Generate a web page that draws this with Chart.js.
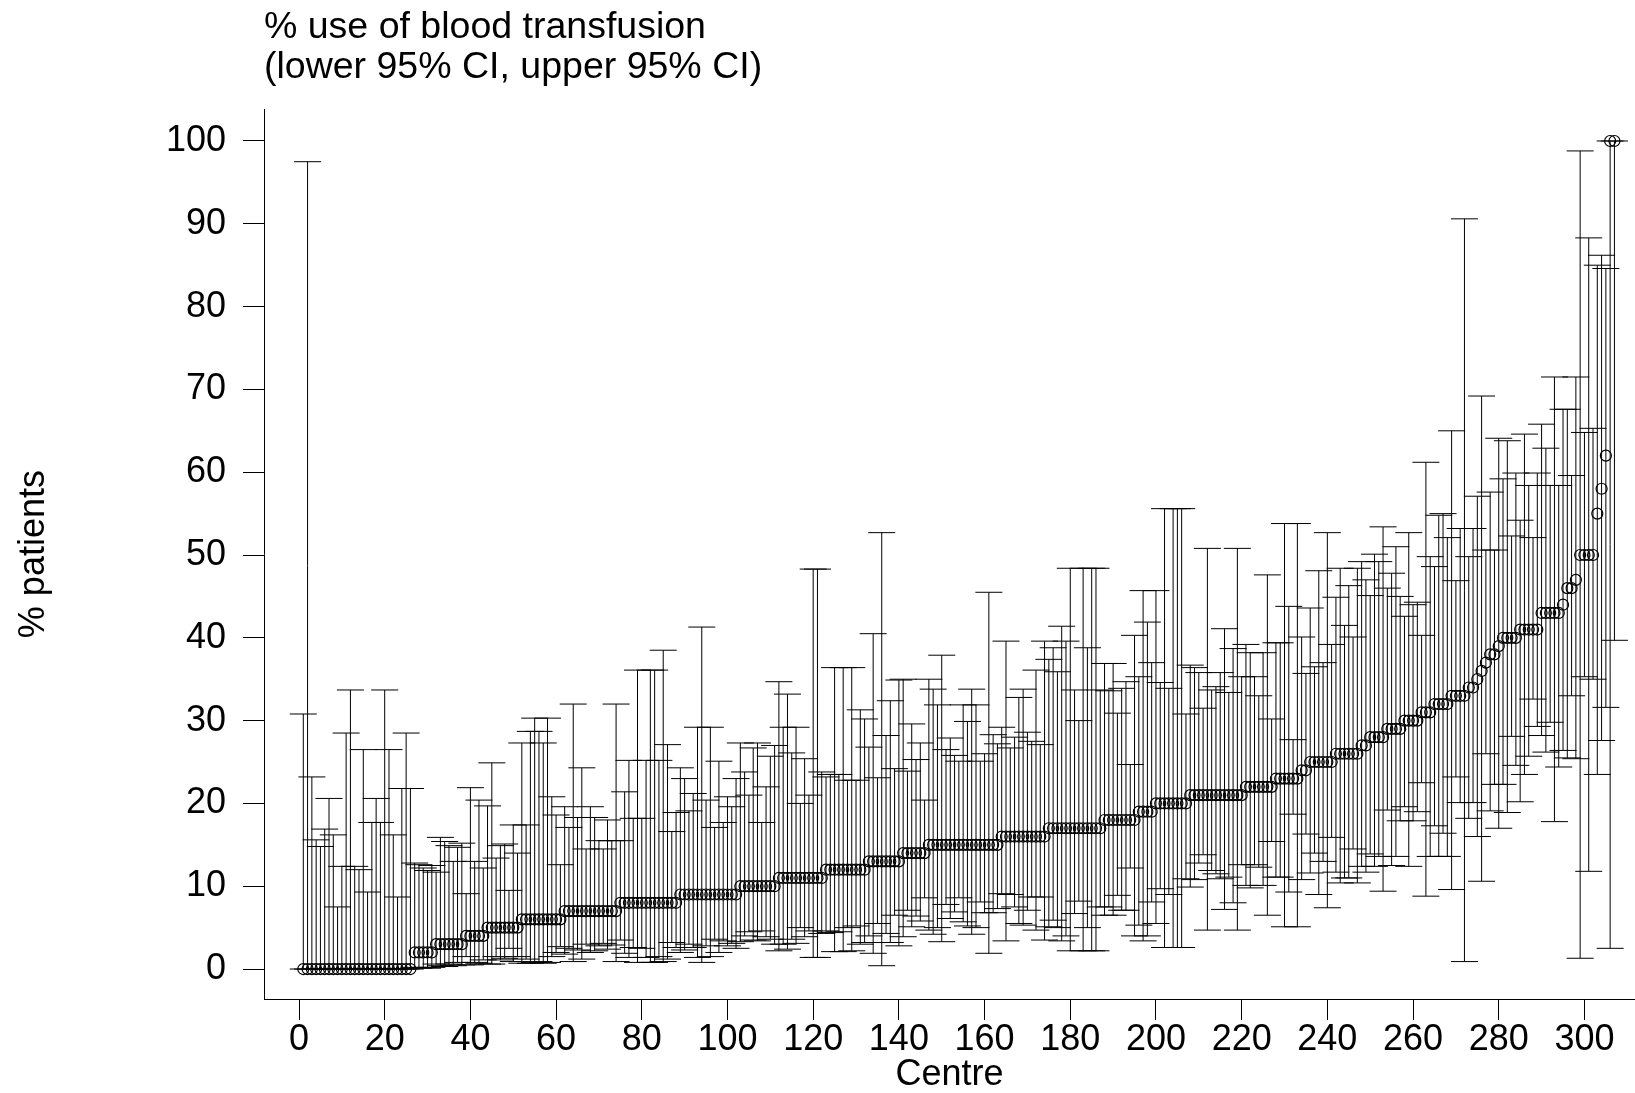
<!DOCTYPE html>
<html>
<head>
<meta charset="utf-8">
<title>% use of blood transfusion</title>
<script src="https://cdn.jsdelivr.net/npm/chart.js@4.4.0/dist/chart.umd.min.js"></script>
<style>
    html, body { margin: 0; padding: 0; background: #fff; overflow: hidden; }
    #chart { display: block; }
</style>
</head>
<body>
<canvas id="chart" width="1635" height="1093"></canvas>
<script>
/* ========================================
   % use of blood transfusion per centre,
   with lower / upper 95% CI (centres sorted by estimate)
   ======================================== */

const estimate = [
    0, 0, 0, 0, 0, 0, 0, 0, 0, 0,
    0, 0, 0, 0, 0, 0, 0, 0, 0, 0,
    0, 0, 0, 0, 0, 0, 2, 2, 2, 2,
    2, 3, 3, 3, 3, 3, 3, 3, 4, 4,
    4, 4, 4, 5, 5, 5, 5, 5, 5, 5,
    5, 6, 6, 6, 6, 6, 6, 6, 6, 6,
    6, 7, 7, 7, 7, 7, 7, 7, 7, 7,
    7, 7, 7, 7, 8, 8, 8, 8, 8, 8,
    8, 8, 8, 8, 8, 8, 8, 8, 9, 9,
    9, 9, 9, 9, 9, 9, 9, 9, 9, 9,
    9, 9, 10, 10, 10, 10, 10, 10, 10, 10,
    10, 11, 11, 11, 11, 11, 11, 11, 11, 11,
    11, 11, 12, 12, 12, 12, 12, 12, 12, 12,
    12, 12, 13, 13, 13, 13, 13, 13, 13, 13,
    14, 14, 14, 14, 14, 14, 15, 15, 15, 15,
    15, 15, 15, 15, 15, 15, 15, 15, 15, 15,
    15, 15, 15, 16, 16, 16, 16, 16, 16, 16,
    16, 16, 16, 16, 17, 17, 17, 17, 17, 17,
    17, 17, 17, 17, 17, 17, 17, 18, 18, 18,
    18, 18, 18, 18, 18, 19, 19, 19, 19, 20,
    20, 20, 20, 20, 20, 20, 20, 21, 21, 21,
    21, 21, 21, 21, 21, 21, 21, 21, 21, 21,
    22, 22, 22, 22, 22, 22, 22, 23, 23, 23,
    23, 23, 23, 24, 24, 25, 25, 25, 25, 25,
    25, 26, 26, 26, 26, 26, 26, 27, 27, 28,
    28, 28, 28, 29, 29, 29, 29, 30, 30, 30,
    30, 31, 31, 31, 32, 32, 32, 32, 33, 33,
    33, 33, 34, 34, 35, 36, 37, 38, 38, 39,
    40, 40, 40, 40, 41, 41, 41, 41, 41, 43,
    43, 43, 43, 43, 44, 46, 46, 47, 50, 50,
    50, 50, 55, 58, 62, 100, 100
];

const lowerCI = [
    0, 0, 0, 0, 0, 0, 0, 0, 0, 0,
    0, 0, 0, 0, 0, 0, 0, 0, 0, 0,
    0, 0, 0, 0, 0, 0, 0.2, 0.1, 0.2, 0.1,
    0.2, 0.6, 0.4, 0.3, 0.6, 0.4, 0.8, 0.5, 1.5, 0.5,
    0.8, 0.7, 1.1, 0.6, 0.6, 1.5, 1.1, 1.3, 2.5, 0.9,
    1.5, 0.7, 1.2, 0.7, 0.8, 0.9, 0.7, 0.8, 1.5, 2.0,
    2.7, 1.8, 2.5, 0.9, 2.3, 1.2, 3.0, 2.0, 2.2, 2.8,
    3.1, 2.4, 2.9, 0.9, 3.5, 1.9, 1.4, 2.6, 0.8, 2.5,
    1.4, 0.8, 0.8, 1.5, 0.9, 1.2, 3.2, 2.6, 2.0, 2.3,
    3.0, 2.6, 1.4, 0.8, 2.8, 1.5, 3.6, 2.0, 3.4, 2.8,
    3.1, 2.5, 3.3, 4.0, 4.5, 3.5, 3.4, 4.6, 3.9, 3.6,
    3.0, 2.2, 3.0, 2.4, 3.6, 3.1, 5.0, 3.9, 4.6, 1.4,
    1.4, 4.3, 4.6, 4.4, 2.1, 4.5, 2.1, 5.0, 2.2, 5.2,
    3.0, 3.2, 4.0, 1.9, 5.5, 0.4, 4.3, 3.2, 6.5, 2.8,
    3.9, 7.1, 5.1, 6.4, 5.8, 8.6, 4.7, 4.2, 5.0, 3.3,
    7.8, 6.1, 6.9, 8.6, 5.7, 5.2, 4.2, 5.0, 8.1, 6.8,
    1.9, 6.8, 7.3, 9.1, 3.4, 9.0, 7.5, 5.5, 5.3, 7.1,
    8.7, 4.7, 8.7, 3.5, 5.1, 5.9, 5.0, 3.4, 4.0, 2.2,
    6.7, 8.2, 2.2, 5.0, 2.2, 2.2, 7.5, 6.5, 7.5, 6.5,
    8.9, 7.1, 7.1, 12.2, 4.0, 5.3, 3.4, 4.0, 8.1, 5.5,
    9.7, 2.6, 9.0, 2.6, 2.6, 2.6, 10.9, 9.9, 10.8, 12.8,
    13.8, 4.7, 11.9, 11.5, 10.9, 7.2, 11.1, 8.0, 4.7, 12.6,
    10.1, 9.8, 12.6, 12.3, 10.1, 6.5, 15.4, 11.1, 11.1, 5.1,
    9.3, 18.7, 5.1, 10.8, 16.3, 11.6, 14.0, 9.0, 13.0, 7.4,
    15.9, 11.7, 10.4, 11.0, 11.0, 14.5, 10.4, 12.4, 11.7, 13.9,
    12.4, 13.6, 9.4, 19.2, 12.5, 13.6, 17.9, 19.6, 12.4, 17.9,
    19.0, 22.5, 8.8, 13.6, 17.3, 13.6, 16.4, 13.6, 9.6, 23.2,
    20.1, 0.9, 18.2, 20.1, 16.0, 10.6, 26.0, 19.1, 22.3, 17.0,
    22.3, 18.9, 28.1, 24.6, 20.2, 23.5, 25.7, 32.6, 29.3, 28.2,
    26.2, 29.8, 17.8, 24.4, 26.4, 25.5, 33.0, 25.4, 1.3, 35.3,
    11.8, 35.0, 23.5, 27.6, 31.6, 2.5, 39.7
];

const upperCI = [
    30.8, 97.5, 23.2, 15.6, 14.8, 16.9, 20.6, 16.2, 7.5, 12.4,
    28.5, 33.7, 12.4, 12.0, 26.5, 9.3, 17.7, 20.6, 17.7, 33.7,
    26.5, 16.2, 8.7, 21.8, 28.5, 21.8, 12.8, 12.6, 12.2, 11.9,
    12.5, 11.7, 15.9, 15.4, 14.9, 13.0, 14.7, 15.2, 9.1, 21.9,
    13.0, 20.4, 12.2, 19.7, 24.9, 13.4, 14.9, 15.1, 9.5, 17.4,
    14.0, 27.3, 17.4, 28.7, 30.3, 28.7, 27.3, 30.3, 20.8, 18.6,
    12.6, 19.6, 17.1, 32.0, 18.3, 24.3, 14.5, 19.6, 18.3, 15.5,
    14.5, 18.0, 15.5, 32.0, 15.5, 21.4, 25.2, 18.2, 36.1, 18.2,
    25.2, 36.1, 36.1, 25.2, 38.5, 27.1, 16.6, 18.9, 24.3, 23.0,
    19.1, 21.2, 29.2, 41.3, 20.4, 29.2, 17.1, 25.1, 17.7, 20.8,
    19.6, 23.0, 27.3, 23.8, 21.0, 26.7, 27.3, 17.7, 22.0, 25.7,
    27.0, 34.7, 29.2, 33.2, 26.1, 29.2, 20.0, 25.4, 21.0, 48.3,
    48.3, 23.8, 23.2, 23.5, 36.4, 23.5, 36.4, 22.8, 36.4, 22.8,
    31.3, 30.2, 26.8, 40.5, 23.1, 52.7, 28.2, 32.4, 24.2, 34.9,
    35.0, 23.9, 29.6, 25.3, 27.3, 20.4, 35.0, 33.8, 31.9, 37.9,
    26.5, 27.9, 25.8, 25.1, 31.9, 29.9, 33.8, 31.9, 25.1, 26.0,
    45.5, 28.3, 27.2, 29.2, 39.6, 26.7, 28.0, 32.8, 33.8, 28.6,
    27.5, 36.1, 27.1, 39.6, 37.4, 38.8, 35.9, 41.4, 39.6, 48.4,
    33.7, 30.0, 48.4, 38.8, 48.4, 48.4, 33.7, 36.9, 33.6, 36.9,
    30.9, 33.9, 34.7, 24.7, 40.3, 35.3, 45.7, 41.9, 37.0, 45.7,
    34.6, 55.6, 33.9, 55.6, 55.6, 55.6, 30.8, 36.7, 36.4, 35.8,
    31.5, 50.8, 33.7, 34.1, 35.8, 41.1, 33.4, 38.7, 50.8, 35.3,
    39.2, 38.2, 35.3, 33.0, 38.2, 47.6, 30.2, 39.4, 39.4, 53.8,
    43.8, 27.7, 53.8, 40.1, 35.7, 43.6, 36.5, 48.1, 37.0, 52.7,
    39.2, 44.9, 48.4, 41.5, 46.3, 40.1, 48.4, 49.2, 47.0, 45.1,
    50.1, 49.2, 53.4, 46.0, 47.8, 51.0, 45.0, 42.6, 52.7, 44.0,
    44.3, 40.3, 61.2, 49.8, 48.6, 54.8, 55.0, 52.1, 65.0, 46.9,
    53.2, 90.6, 49.8, 53.2, 57.1, 69.2, 50.6, 57.6, 50.6, 64.1,
    59.2, 63.8, 52.3, 59.9, 54.2, 64.6, 58.4, 52.1, 59.9, 65.8,
    62.9, 58.4, 71.5, 58.4, 67.6, 67.6, 59.6, 71.5, 98.8, 64.8,
    88.3, 65.3, 85.0, 86.2, 84.6, 100, 100
];

const xTicks = [0, 20, 40, 60, 80, 100, 120, 140, 160, 180, 200, 220, 240, 260, 280, 300];
const yTicks = [0, 10, 20, 30, 40, 50, 60, 70, 80, 90, 100];

const FONT = "'Liberation Sans', Arial, Helvetica, sans-serif";
const INK = '#000';

// centres are numbered 1..n in sorted order
const centres = estimate.map((_, i) => i + 1);

// one line dataset for all CI whiskers, broken by null points
const whiskers = [];
centres.forEach((c, i) => {
    whiskers.push({ x: c, y: lowerCI[i] }, { x: c, y: upperCI[i] }, { x: c, y: null });
});

const capStyle = {
    showLine: false,
    pointStyle: 'line',
    pointRadius: 13.5,
    pointBorderWidth: 1,
    pointBorderColor: INK,
};

// keep the plot box fixed: no extra margins for edge labels
const noEdgePadding = s => {
    s.paddingLeft = 0; s.paddingRight = 0;
    s.paddingTop = 0; s.paddingBottom = 0;
};

const axisGrid = { display: true, drawOnChartArea: false, drawTicks: true, tickLength: 21, color: INK, lineWidth: 1 };

new Chart(document.getElementById('chart'), {
    type: 'line',
    data: {
        datasets: [
            {
                label: 'CI',
                data: whiskers,
                borderColor: INK,
                borderWidth: 1,
                pointRadius: 0,
                spanGaps: false,
                tension: 0,
            },
            { label: 'upper 95% CI', data: centres.map((c, i) => ({ x: c, y: upperCI[i] })), ...capStyle },
            { label: 'lower 95% CI', data: centres.map((c, i) => ({ x: c, y: lowerCI[i] })), ...capStyle },
            {
                label: '% use of blood transfusion',
                data: centres.map((c, i) => ({ x: c, y: estimate[i] })),
                showLine: false,
                pointStyle: 'circle',
                pointRadius: 5.5,
                pointBorderWidth: 1.2,
                pointBorderColor: INK,
                pointBackgroundColor: 'rgba(0,0,0,0)',
            },
        ],
    },
    options: {
        responsive: false,
        animation: false,
        events: [],
        devicePixelRatio: 1,
        layout: { autoPadding: false, padding: { left: 0, right: 0, top: 0, bottom: 0 } },
        plugins: {
            legend: { display: false },
            tooltip: { enabled: false },
            title: {
                display: true,
                fullSize: false,
                align: 'start',
                text: ['% use of blood transfusion', '(lower 95% CI, upper 95% CI)'],
                color: INK,
                font: { family: FONT, size: 37.5, weight: 'normal', lineHeight: 1.056 },
                padding: { top: 8, bottom: 22 },
            },
        },
        scales: {
            x: {
                type: 'linear',
                min: -8.17, max: 311.8,
                afterBuildTicks: s => { s.ticks = xTicks.map(v => ({ value: v })); },
                afterFit: s => { s.height = 94; noEdgePadding(s); },
                grid: axisGrid,
                border: { display: true, color: INK, width: 1 },
                ticks: { color: INK, padding: 2, maxRotation: 0, autoSkip: false, font: { family: FONT, size: 36, lineHeight: 1 } },
                title: {
                    display: true, text: 'Centre', color: INK,
                    font: { family: FONT, size: 36, lineHeight: 1 },
                    padding: { top: 0, bottom: 0 },
                },
            },
            y: {
                type: 'linear',
                min: -3.62, max: 103.84,
                afterBuildTicks: s => { s.ticks = yTicks.map(v => ({ value: v })); },
                afterFit: s => { s.width = 264; noEdgePadding(s); },
                grid: axisGrid,
                border: { display: true, color: INK, width: 1 },
                ticks: { color: INK, padding: 17, font: { family: FONT, size: 36 } },
                title: {
                    display: true, text: '% patients', color: INK,
                    font: { family: FONT, size: 36, lineHeight: 1 },
                    padding: { top: 16, bottom: 0 },
                },
            },
        },
    },
});
</script>
</body>
</html>
